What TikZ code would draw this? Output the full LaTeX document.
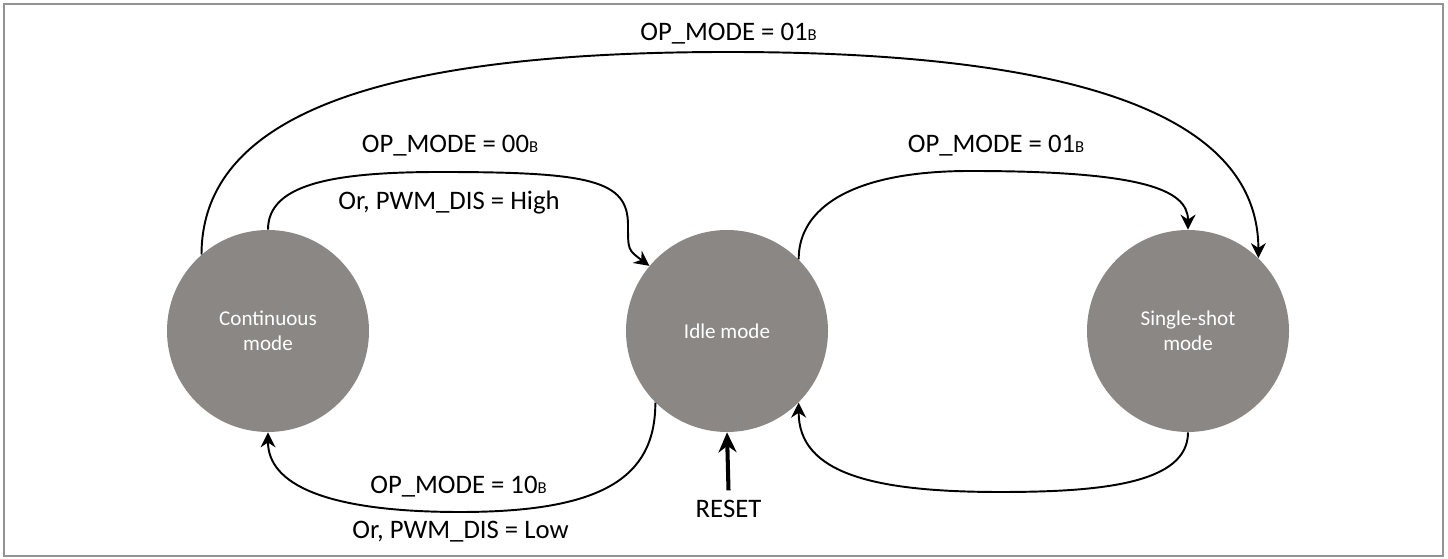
\documentclass[tikz,border=0pt]{standalone}
\usepackage{fontspec}
\setmainfont{Carlito}
\usetikzlibrary{arrows.meta}
\definecolor{stategray}{RGB}{139,135,132}
\newcommand{\bsub}{{\fontsize{9.5}{9.5}\selectfont B}}

\begin{document}
\begin{tikzpicture}[
  state/.style={circle, fill=stategray, minimum size=4.04cm, inner sep=0pt,
    align=center, text=white, font=\fontsize{12}{14.5}\selectfont},
  lbl/.style={font=\fontsize{15.2}{18}\selectfont, inner sep=0pt},
  trans/.style={line width=1.1pt, -{Stealth[length=0.3cm,width=0.3cm]}}]
\useasboundingbox (0,0) rectangle (28.96,11.18);
\draw[gray!85, line width=1.2pt] (0.08,0.06) rectangle (28.86,11.1);

% states
\node[state] (cont) at (5.36,4.56) {Continuous\\mode};
\node[state] (idle) at (14.54,4.56) {Idle mode};
\node[state] (single) at (23.76,4.56) {Single-shot\\mode};

% labels
\node[lbl] (top01) at (14.57,10.5) {OP\_MODE = 01\bsub};
\node[lbl] (mode00) at (9.0,8.26) {OP\_MODE = 00\bsub};
\node[lbl] (high) at (8.98,7.13) {Or, PWM\_DIS = High};
\node[lbl] (mode01) at (19.92,8.26) {OP\_MODE = 01\bsub};
\node[lbl] (mode10) at (9.17,1.45) {OP\_MODE = 10\bsub};
\node[lbl] (low) at (9.21,0.55) {Or, PWM\_DIS = Low};
\node[lbl] (reset) at (14.57,1.01) {RESET};

% transitions
\draw[trans] (cont.north) .. controls (5.36,7.48) and (6.6,7.74) .. (8.8,7.74)
  .. controls (11.8,7.74) and (12.56,7.58) .. (12.56,6.68)
  .. controls (12.56,6.18) .. (idle.140);
\draw[trans] (idle.45) .. controls (15.97,7.0) and (17.0,7.76) .. (19.4,7.76)
  .. controls (22.8,7.76) and (23.76,7.4) .. (single.north);
\draw[trans] (single.south) .. controls (23.76,1.5) and (22.0,1.34) .. (20.0,1.34)
  .. controls (17.5,1.34) and (15.97,1.7) .. (idle.-45);
\draw[trans] (idle.-135) .. controls (13.11,1.6) and (12.0,0.94) .. (9.2,0.94)
  .. controls (6.5,0.94) and (5.36,1.5) .. (cont.south);
\draw[trans] (cont.131) .. controls (4.035,9.1) and (8.2,10.14) .. (14.56,10.14)
  .. controls (20.9,10.14) and (25.16,9.1) .. (single.46);
\draw[line width=2.3pt, -{Stealth[length=0.4cm,width=0.36cm]}]
  ([yshift=0.18cm]reset.north) -- (idle.south);
\end{tikzpicture}
\end{document}
